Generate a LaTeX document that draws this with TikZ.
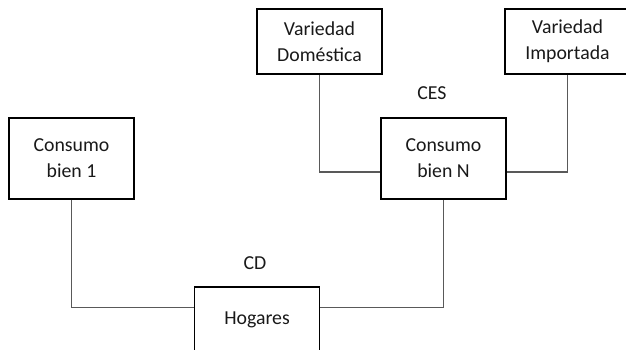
\documentclass[tikz,border=0pt]{standalone}
\usepackage{fontspec}
\setmainfont{Carlito}
\usepackage{tikz}
\usetikzlibrary{calc, positioning}

\begin{document}
\begin{tikzpicture}[x=1pt, y=1pt,
    caja/.style={draw=black, line width=1.6pt, minimum width=125pt, align=center,
                 inner sep=0pt, text=black!90, font=\fontsize{19.8}{26}\selectfont},
    linea/.style={draw=black!65, line width=1.3pt},
    etiqueta/.style={text=black!90, font=\fontsize{19.8}{26}\selectfont}]
          \clip (0,0) rectangle (626,349);
          % Upper level
          \node[caja, minimum height=65pt] (dom) at (319.5,307.5) {Variedad\\Doméstica};
          \node[caja, minimum height=65pt] (imp) at (567.5,307.5) {Variedad\\Importada};
          % Middle level
          \node[caja, minimum height=81pt] (bien1) at (71.5,190.5) {Consumo\\bien 1};
          \node[caja, minimum height=81pt] (bienN) at (443.5,190.5) {Consumo\\bien N};
          % Households
          \node[caja, minimum height=66pt] (hog) at (257,29) {Hogares};
          % Functional forms
          \node[etiqueta] (ces) at (432,256) {CES};
          \node[etiqueta] (cd) at (255,86) {CD};
          % Connectors
          \draw[linea] (dom.south) |- ([yshift=-13.5pt]bienN.west);
          \draw[linea] (imp.south) |- ([yshift=-13.5pt]bienN.east);
          \draw[linea] (bien1.south) |- ([yshift=-21pt]hog.north west);
          \draw[linea] (bienN.south) |- ([yshift=-21pt]hog.north east);
        \end{tikzpicture}
\end{document}
